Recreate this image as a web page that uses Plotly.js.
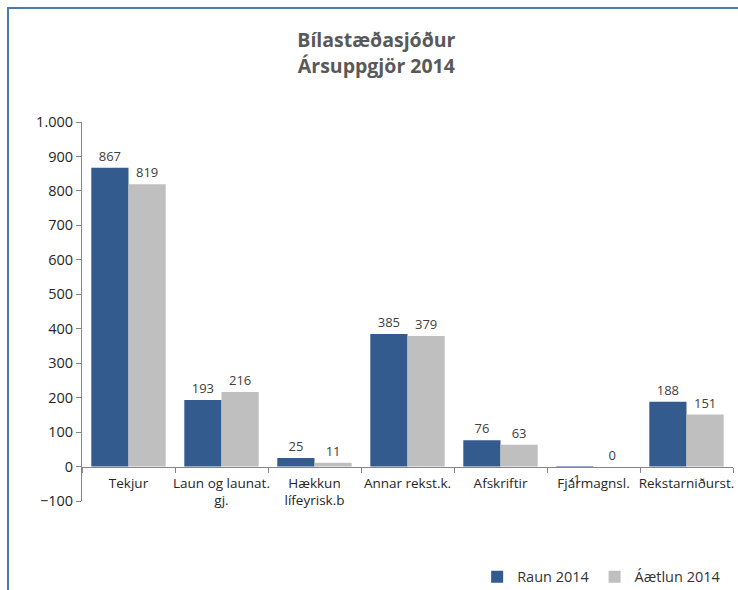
<!DOCTYPE html>
<html><head><meta charset="utf-8">
<script src="https://cdn.plot.ly/plotly-3.0.1.min.js"></script>
<style>
body{margin:0;padding:0;background:#fff;}
#wrap{position:relative;width:738px;height:590px;}
#chart{position:absolute;left:0;top:0;width:738px;height:590px;}
#frame{position:absolute;left:7px;top:7px;width:740px;height:600px;border-left:2px solid #4a78b0;border-top:2px solid #4a78b0;pointer-events:none;}
</style></head>
<body><div id="wrap"><div id="chart"></div><div id="frame"></div></div>
<script>
const categories = ["Tekjur","Laun og launat.<br>gj.","Hækkun<br>lífeyrisk.b","Annar rekst.k.","Afskriftir","Fjármagnsl.","Rekstarniðurst."];
const raun2014 = [867,193,25,385,76,-1,188];
const aaetlun2014 = [819,216,11,379,63,0,151];
const seriesNames = ["Raun 2014","Áætlun 2014"];
const yTicks = [-100,0,100,200,300,400,500,600,700,800,900,1000];

const font = "Open Sans, Noto Sans, sans-serif";
const narrow = "Liberation Sans Narrow, Open Sans, sans-serif";
const traces = [
  {type:"bar", name:seriesNames[0], x:categories, y:raun2014, marker:{color:"#335b8e"},
   text:raun2014.map(String), textposition:"outside", cliponaxis:false,
   textfont:{size:13,color:"#404040",family:font}},
  {type:"bar", name:seriesNames[1], x:categories, y:aaetlun2014, marker:{color:"#bfbfbf"},
   text:aaetlun2014.map(String), textposition:"outside", cliponaxis:false,
   textfont:{size:13,color:"#404040",family:font}}
];
const layout = {
  width:738, height:590,
  margin:{l:82,r:5,t:122,b:89, autoexpand:false},
  paper_bgcolor:"#fff", plot_bgcolor:"#fff",
  separators:",.",
  barmode:"group", bargap:0.2, bargroupgap:0,
  font:{family:font,color:"#404040"},
  title:{text:"<b>Bílastæðasjóður<br>Ársuppgjör 2014</b>", x:0.51, xanchor:"center", y:0.92, yanchor:"middle",
         font:{size:19.5,color:"#595959",family:font}},
  xaxis:{type:"category", anchor:"free", position:100/1100, showline:true, linecolor:"#868686", linewidth:1,
         ticks:"outside", tickson:"boundaries", ticklen:5, tickcolor:"#868686", tickangle:0, automargin:false,
         ticklabelstandoff:4,
         tickfont:{size:13.5,color:"#262626",family:narrow}, showgrid:false, zeroline:false},
  yaxis:{range:[-100,1000], tickvals:yTicks, tickformat:",", showline:true, linecolor:"#868686", linewidth:1,
         ticks:"outside", ticklen:5, tickcolor:"#868686", showgrid:false, zeroline:false, automargin:false,
         tickfont:{size:14.5,color:"#262626",family:font}},
  showlegend:true,
  legend:{orientation:"h", x:0.607, y:-0.2, xanchor:"left", yanchor:"middle",
          font:{size:14.5,color:"#333",family:font}, itemwidth:30, traceorder:"normal"}
};
Plotly.newPlot("chart", traces, layout, {displayModeBar:false, staticPlot:true});
</script></body></html>
